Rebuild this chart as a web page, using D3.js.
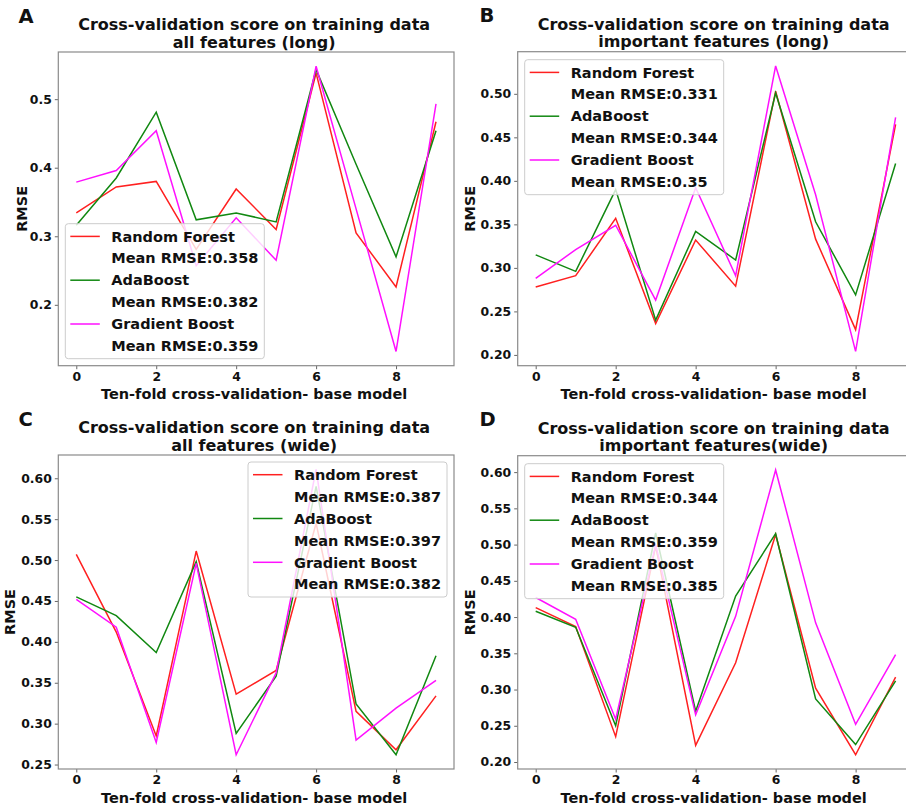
<!DOCTYPE html>
<html>
    <head>
        <meta charset="utf-8">
        <script src="https://d3js.org/d3.v7.min.js"></script>
        <style>
            body { margin: 0; background: #fff; }
            text { font-family: "DejaVu Sans", sans-serif; font-weight: bold; fill: #111; }
        </style>
    </head>
    <body>
        <script>
            // DATA ////////////////////////////////////////////////////////////

            const folds = [0, 1, 2, 3, 4, 5, 6, 7, 8, 9];
            const xTicks = [0, 2, 4, 6, 8];
            const modelNames = ["Random Forest", "AdaBoost", "Gradient Boost"];
            const modelColors = ["#ff2020", "#118811", "#ff10ff"];

            // A: all features (long)
            const A_rf  = [0.334, 0.372, 0.380, 0.281, 0.369, 0.310, 0.538, 0.305, 0.226, 0.467];
            const A_ada = [0.316, 0.385, 0.481, 0.324, 0.334, 0.321, 0.543, 0.405, 0.270, 0.454];
            const A_gb  = [0.379, 0.396, 0.454, 0.257, 0.327, 0.265, 0.548, 0.340, 0.132, 0.493];
            const A_means = ["0.358", "0.382", "0.359"];
            const A_yTicks = [0.2, 0.3, 0.4, 0.5];

            // B: important features (long)
            const B_rf  = [0.278, 0.291, 0.357, 0.236, 0.332, 0.279, 0.503, 0.333, 0.229, 0.465];
            const B_ada = [0.315, 0.296, 0.390, 0.240, 0.342, 0.309, 0.501, 0.353, 0.269, 0.420];
            const B_gb  = [0.288, 0.321, 0.349, 0.263, 0.392, 0.291, 0.532, 0.384, 0.204, 0.473];
            const B_means = ["0.331", "0.344", "0.35"];
            const B_yTicks = [0.20, 0.25, 0.30, 0.35, 0.40, 0.45, 0.50];

            // C: all features (wide)
            const C_rf  = [0.507, 0.412, 0.285, 0.511, 0.336, 0.365, 0.545, 0.315, 0.268, 0.334];
            const C_ada = [0.455, 0.432, 0.387, 0.498, 0.288, 0.358, 0.590, 0.324, 0.262, 0.383];
            const C_gb  = [0.452, 0.418, 0.277, 0.496, 0.262, 0.362, 0.611, 0.280, 0.319, 0.353];
            const C_means = ["0.387", "0.397", "0.382"];
            const C_yTicks = [0.25, 0.30, 0.35, 0.40, 0.45, 0.50, 0.55, 0.60];

            // D: important features (wide)
            const D_rf  = [0.413, 0.387, 0.235, 0.498, 0.223, 0.337, 0.514, 0.302, 0.210, 0.317];
            const D_ada = [0.408, 0.386, 0.250, 0.516, 0.270, 0.429, 0.515, 0.287, 0.224, 0.312];
            const D_gb  = [0.427, 0.397, 0.259, 0.500, 0.265, 0.401, 0.603, 0.392, 0.252, 0.348];
            const D_means = ["0.344", "0.359", "0.385"];
            const D_yTicks = [0.20, 0.25, 0.30, 0.35, 0.40, 0.45, 0.50, 0.55, 0.60];

            const titlesLine2 = ["all features (long)", "important features (long)",
                                 "all features (wide)", "important features(wide)"];

            // LAYOUT //////////////////////////////////////////////////////////

            const W = 906, H = 810;
            const svg = d3.select("body").append("svg").attr("width", W).attr("height", H);

            const panels = [
                { letter: "A", series: [A_rf, A_ada, A_gb], means: A_means, ticks: A_yTicks, fmt: ".1f",
                  box: { l: 58.3, r: 454, t: 52, b: 365.7 }, letterX: 18.5, ylabX: 27, legend: "ll" },
                { letter: "B", series: [B_rf, B_ada, B_gb], means: B_means, ticks: B_yTicks, fmt: ".2f",
                  box: { l: 517.7, r: 913.6, t: 51.7, b: 365.7 }, letterX: 479.5, ylabX: 475, legend: "ul" },
                { letter: "C", series: [C_rf, C_ada, C_gb], means: C_means, ticks: C_yTicks, fmt: ".2f",
                  box: { l: 58.3, r: 454, t: 455, b: 769 }, letterX: 18.5, ylabX: 15, legend: "ur" },
                { letter: "D", series: [D_rf, D_ada, D_gb], means: D_means, ticks: D_yTicks, fmt: ".2f",
                  box: { l: 517.7, r: 913.6, t: 455.7, b: 769 }, letterX: 479.5, ylabX: 475, legend: "ul" }
            ];

            panels.forEach((p, i) => drawPanel(p, titlesLine2[i]));

            function drawPanel(p, title2) {
                const bx = p.box;
                const g = svg.append("g");

                // scales: matplotlib-style 5% margins
                const xSc = d3.scaleLinear().domain([-0.45, 9.45]).range([bx.l, bx.r]);
                const all = p.series.flat();
                const [lo, hi] = d3.extent(all);
                const pad = (hi - lo) * 0.05;
                const ySc = d3.scaleLinear().domain([lo - pad, hi + pad]).range([bx.b, bx.t]);

                const clipId = "clip" + p.letter;
                g.append("clipPath").attr("id", clipId)
                 .append("rect").attr("x", bx.l).attr("y", bx.t)
                 .attr("width", bx.r - bx.l).attr("height", bx.b - bx.t);

                // lines
                const lnMkr = d3.line().x((d, j) => xSc(folds[j])).y(d => ySc(d));
                p.series.forEach((s, k) => {
                    g.append("path")
                     .attr("d", lnMkr(s))
                     .attr("clip-path", `url(#${clipId})`)
                     .attr("fill", "none")
                     .attr("stroke", modelColors[k])
                     .attr("stroke-width", 1.5);
                });

                // axes
                const xAx = g.append("g")
                    .attr("transform", `translate(0,${bx.b})`)
                    .call(d3.axisBottom(xSc).tickValues(xTicks).tickSize(3.5).tickPadding(3));
                const yAx = g.append("g")
                    .attr("transform", `translate(${bx.l},0)`)
                    .call(d3.axisLeft(ySc).tickValues(p.ticks).tickFormat(d3.format(p.fmt))
                            .tickSize(3.5).tickPadding(3));
                [xAx, yAx].forEach(ax => {
                    ax.select(".domain").remove();
                    ax.selectAll("line").attr("stroke", "#666");
                    ax.selectAll("text").style("font-size", "12.4px").attr("fill", "#111");
                });

                // frame
                g.append("rect")
                 .attr("x", bx.l).attr("y", bx.t)
                 .attr("width", bx.r - bx.l).attr("height", bx.b - bx.t)
                 .attr("fill", "none").attr("stroke", "#8a8a8a").attr("stroke-width", 1.2);

                // titles
                const tcx = (bx.l + bx.r) / 2 - 2;
                g.append("text").attr("x", tcx).attr("y", bx.t - 22)
                 .attr("text-anchor", "middle").style("font-size", "16px")
                 .text("Cross-validation score on training data");
                g.append("text").attr("x", tcx).attr("y", bx.t - 4.5)
                 .attr("text-anchor", "middle").style("font-size", "16px")
                 .text(title2);

                g.append("text").attr("x", p.letterX).attr("y", bx.t - 29.5)
                 .style("font-size", "19.5px").text(p.letter);

                g.append("text").attr("x", tcx).attr("y", bx.b + 33.5)
                 .attr("text-anchor", "middle").style("font-size", "14.5px")
                 .text("Ten-fold cross-validation- base model");

                g.append("text")
                 .attr("transform", `translate(${p.ylabX},${(bx.t + bx.b) / 2}) rotate(-90)`)
                 .attr("text-anchor", "middle").style("font-size", "14.5px")
                 .text("RMSE");

                // legend
                const lw = 199, lh = 135, off = 7;
                let lx, ly;
                if (p.legend === "ll") { lx = bx.l + off; ly = bx.b - off - lh; }
                else if (p.legend === "ul") { lx = bx.l + off; ly = bx.t + off + 1; }
                else { lx = bx.r - off - lw; ly = bx.t + off; }

                const lg = g.append("g").attr("transform", `translate(${lx},${ly})`);
                lg.append("rect").attr("width", lw).attr("height", lh).attr("rx", 3)
                  .attr("fill", "#fff").attr("fill-opacity", 0.8)
                  .attr("stroke", "#cccccc").attr("stroke-width", 1);

                const rows = [];
                modelNames.forEach((m, k) => {
                    rows.push({ text: m, color: modelColors[k] });
                    rows.push({ text: "Mean RMSE:" + p.means[k], color: null });
                });
                rows.forEach((r, j) => {
                    const ry = 12.7 + j * 21.9;
                    if (r.color) {
                        lg.append("line").attr("x1", 5).attr("x2", 34.5)
                          .attr("y1", ry).attr("y2", ry)
                          .attr("stroke", r.color).attr("stroke-width", 1.5);
                    }
                    lg.append("text").attr("x", 46).attr("y", ry + 5.2)
                      .style("font-size", "14.5px").text(r.text);
                });
            }
        </script>
    </body>
</html>
